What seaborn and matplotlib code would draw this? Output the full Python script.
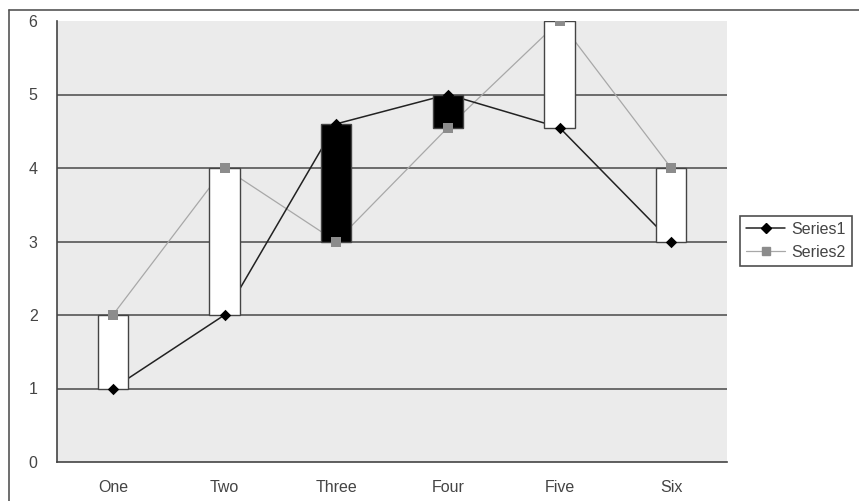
import matplotlib
matplotlib.use("Agg")
import matplotlib.pyplot as plt
import seaborn as sns
import pandas as pd
from matplotlib.lines import Line2D

# data
categories = ["One", "Two", "Three", "Four", "Five", "Six"]
series1 = [1, 2, 4.6, 5, 4.55, 3]
series2 = [2, 4, 3, 4.55, 6, 4]

sns.set_style("white")
plt.rcParams['font.family'] = ['Liberation Sans', 'DejaVu Sans']

fig = plt.figure(figsize=(8.59, 5.01), dpi=100)
ax = fig.add_axes([57/859, 1 - 462/501, (727 - 57)/859, (462 - 21)/501])
ax.set_facecolor("#ebebeb")

pos = list(range(len(categories)))
df = pd.DataFrame({"x": pos + pos,
                   "y": series1 + series2,
                   "series": ["Series1"] * 6 + ["Series2"] * 6})
s1 = df[df.series == "Series1"]
s2 = df[df.series == "Series2"]

# gridlines
for v in range(1, 6):
    ax.axhline(v, color="#555555", lw=1.2, zorder=1)

# lines sit behind the up-down bars, markers on top
sns.lineplot(data=s2, x="x", y="y", ax=ax, color="#a8a8a8", lw=0.9, zorder=2)
sns.lineplot(data=s1, x="x", y="y", ax=ax, color="#222222", lw=1.1, zorder=2)

# up-down bars
lows = [min(a, b) for a, b in zip(series1, series2)]
heights = [abs(b - a) for a, b in zip(series1, series2)]
colors = ["white" if b > a else "black" for a, b in zip(series1, series2)]
ax.bar(pos, heights, bottom=lows, width=0.27, color=colors,
       edgecolor="#444444", linewidth=1, zorder=3)

sns.scatterplot(data=s2, x="x", y="y", ax=ax, marker="s", s=46,
                color="#8c8c8c", edgecolor="#8c8c8c", linewidth=0, zorder=4)
sns.scatterplot(data=s1, x="x", y="y", ax=ax, marker="D", s=34,
                color="black", edgecolor="black", linewidth=0, zorder=5)

ax.set_xlim(-0.5, 5.5)
ax.set_ylim(0, 6)
ax.set_yticks(range(0, 7))
ax.set_xticks([i - 0.5 for i in range(7)])
ax.set_xticklabels([])
ax.set_xticks(pos, minor=True)
ax.set_xticklabels(categories, minor=True)
ax.tick_params(axis="x", which="major", direction="out", length=4, width=1.2, color="#333333")
ax.tick_params(axis="x", which="minor", length=0, pad=13, labelsize=11.5, labelcolor="#444444")
ax.tick_params(axis="y", direction="out", length=5, width=1.2, color="#333333",
               labelsize=11.5, labelcolor="#444444", pad=9)
ax.set_xlabel("")
ax.set_ylabel("")
for s in ["top", "right"]:
    ax.spines[s].set_visible(False)
for s in ["left", "bottom"]:
    ax.spines[s].set_color("#444444")
    ax.spines[s].set_linewidth(1.2)
if ax.get_legend():
    ax.get_legend().remove()

# legend
handles = [
    Line2D([], [], color="#222222", lw=1.1, marker="D", markersize=5.5,
           markerfacecolor="black", markeredgecolor="black", label="Series1"),
    Line2D([], [], color="#a8a8a8", lw=0.9, marker="s", markersize=5.5,
           markerfacecolor="#8c8c8c", markeredgecolor="#8c8c8c", label="Series2"),
]
leg = fig.legend(handles=handles, loc="center left",
                 bbox_to_anchor=(740/859, 1 - 241/501), frameon=True,
                 fancybox=False, edgecolor="#222222", fontsize=11.5,
                 handlelength=2.4, borderpad=0.4, labelspacing=0.5,
                 handletextpad=0.4, borderaxespad=0)
leg.get_frame().set_linewidth(1.2)
for t in leg.get_texts():
    t.set_color("#444444")

# outer chart border (top and left visible)
fig.add_artist(Line2D([9/859, 1], [1 - 10/501, 1 - 10/501], color="#555555", lw=1.2))
fig.add_artist(Line2D([9/859, 9/859], [0, 1 - 10/501], color="#555555", lw=1.2))

fig.savefig("out.png", dpi=100)
